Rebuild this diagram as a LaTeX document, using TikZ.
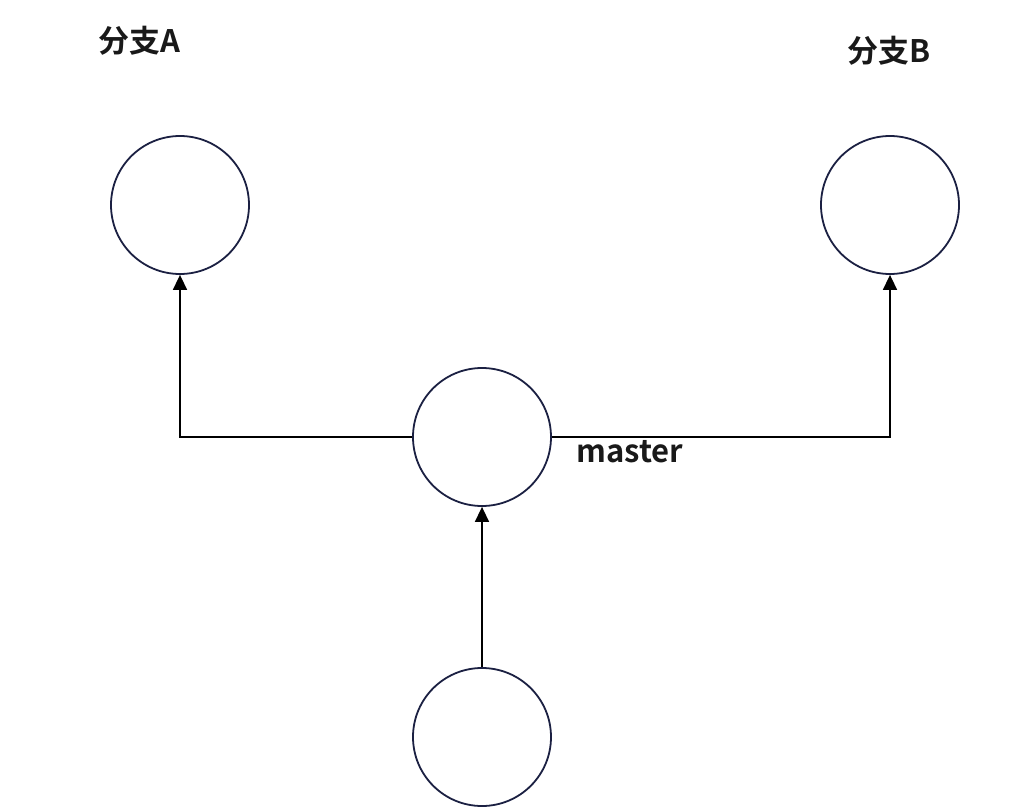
\documentclass[tikz,border=0pt]{standalone}
\usepackage{fontspec}
\setmainfont{Noto Sans CJK SC}[BoldFont={* Bold}]
\usetikzlibrary{arrows.meta}
\definecolor{ring}{HTML}{1B2042}
\tikzset{
  commit/.style={circle, draw=ring, line width=1.8pt, minimum size=138pt, inner sep=0pt},
  link/.style={draw=black, line width=1.6pt, -{Triangle[width=14pt,length=15pt]}},
  lbl/.style={font=\fontsize{31}{35}\selectfont\bfseries, text=black!90, inner sep=0pt}
}
\begin{document}
\begin{tikzpicture}[x=1pt,y=-1pt]
\useasboundingbox (0,0) rectangle (1031,811);
\node[commit] (A) at (180,205) {};
\node[commit] (B) at (890,205) {};
\node[commit] (M) at (482,437) {};
\node[commit] (C) at (482,737) {};
\node[lbl] (la) at (139,41) {分支A};
\node[lbl] (lb) at (889,51) {分支B};
\node[lbl] (lm) at (630,452) {master};
\draw[link] (M.west) -| (A.south);
\draw[link] (M.east) -| (B.south);
\draw[link] (C.north) -- (M.south);
\end{tikzpicture}
\end{document}
